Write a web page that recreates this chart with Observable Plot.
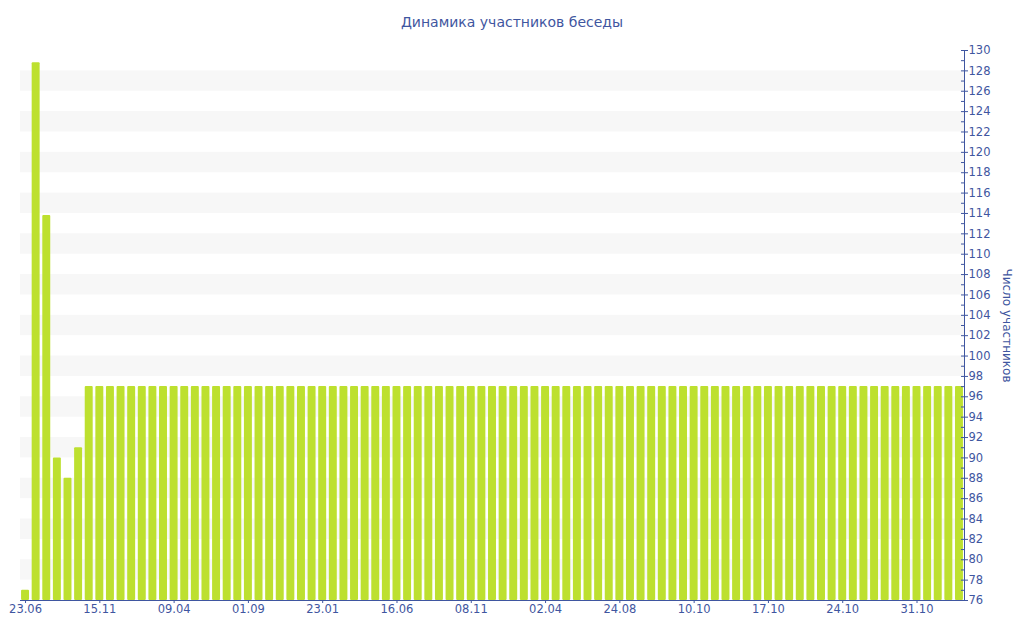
<!DOCTYPE html>
<html><head><meta charset="utf-8">
<script src="https://cdn.jsdelivr.net/npm/d3@7"></script>
<script src="https://cdn.jsdelivr.net/npm/@observablehq/plot@0.6"></script>
<style>
body{margin:0;background:#fff;font-family:"DejaVu Sans",Verdana,sans-serif;}
#title{height:40px;line-height:44px;text-align:center;font-size:14px;color:#3f56a0;}
</style></head><body>
<div id="title">Динамика участников беседы</div>
<div id="chart"></div>
<script>
const values = [77,128.8,113.8,90,88,91,
97,97,97,97,97,97,97,97,97,97,
97,97,97,97,97,97,97,97,97,97,
97,97,97,97,97,97,97,97,97,97,
97,97,97,97,97,97,97,97,97,97,
97,97,97,97,97,97,97,97,97,97,
97,97,97,97,97,97,97,97,97,97,
97,97,97,97,97,97,97,97,97,97,
97,97,97,97,97,97,97,97,97,97,
97,97,97];
const tickLabels = ["23.06","15.11","09.04","01.09","23.01","16.06","08.11","02.04","24.08","10.10","17.10","24.10","31.10"];
const tickIndex = [0,7,14,21,28,35,42,49,56,63,70,77,84];
const yTicks = [76,78,80,82,84,86,88,90,92,94,96,98,100,102,104,106,108,110,112,114,116,118,120,122,124,126,128,130];
const yMinor = [76,77,78,79,80,81,82,83,84,85,86,87,88,89,90,91,92,93,94,95,96,97,98,99,100,101,102,103,104,105,106,107,108,109,110,111,112,113,114,115,116,117,118,119,120,121,122,123,124,125,126,127,128,129,130];
const stripeStarts = [78,82,86,90,94,98,102,106,110,114,118,122,126];
const yLabel = "Число участников";

const blue = "#3f56a0";
const data = values.map((v, i) => ({i, v}));
const labelOf = new Map(tickIndex.map((k, j) => [k, tickLabels[j]]));

const chart = Plot.plot({
  width: 1024, height: 600,
  marginLeft: 20, marginRight: 60, marginTop: 10, marginBottom: 40,
  style: {fontFamily: "DejaVu Sans, Verdana, sans-serif", fontSize: "11.5px", color: blue, background: "white"},
  x: {type: "band", domain: data.map(d => d.i), paddingInner: 0.25, paddingOuter: 0.1},
  y: {domain: [76, 130]},
  marks: [
    Plot.rect(stripeStarts, {y1: d => d, y2: d => d + 2, fill: "#f7f7f7"}),
    Plot.barY(data, {x: "i", y1: 76, y2: "v", fill: "#bde02f", rx: 1}),
    Plot.ruleY([76], {stroke: blue}),
    Plot.frame({anchor: "right", stroke: blue}),
    Plot.ruleY(yMinor, {insetLeft: 941, stroke: blue}),
    Plot.axisY({anchor: "right", ticks: yTicks, tickSize: 3, tickPadding: 1, label: null}),
    Plot.axisX({ticks: tickIndex, tickFormat: d => labelOf.get(d), tickSize: 3, tickPadding: 1, label: null}),
    Plot.text([yLabel], {frameAnchor: "right", textAnchor: "middle", dx: 42, rotate: 90, fontSize: 12, fill: blue})
  ]
});
document.getElementById("chart").appendChild(chart);
</script>
</body></html>
